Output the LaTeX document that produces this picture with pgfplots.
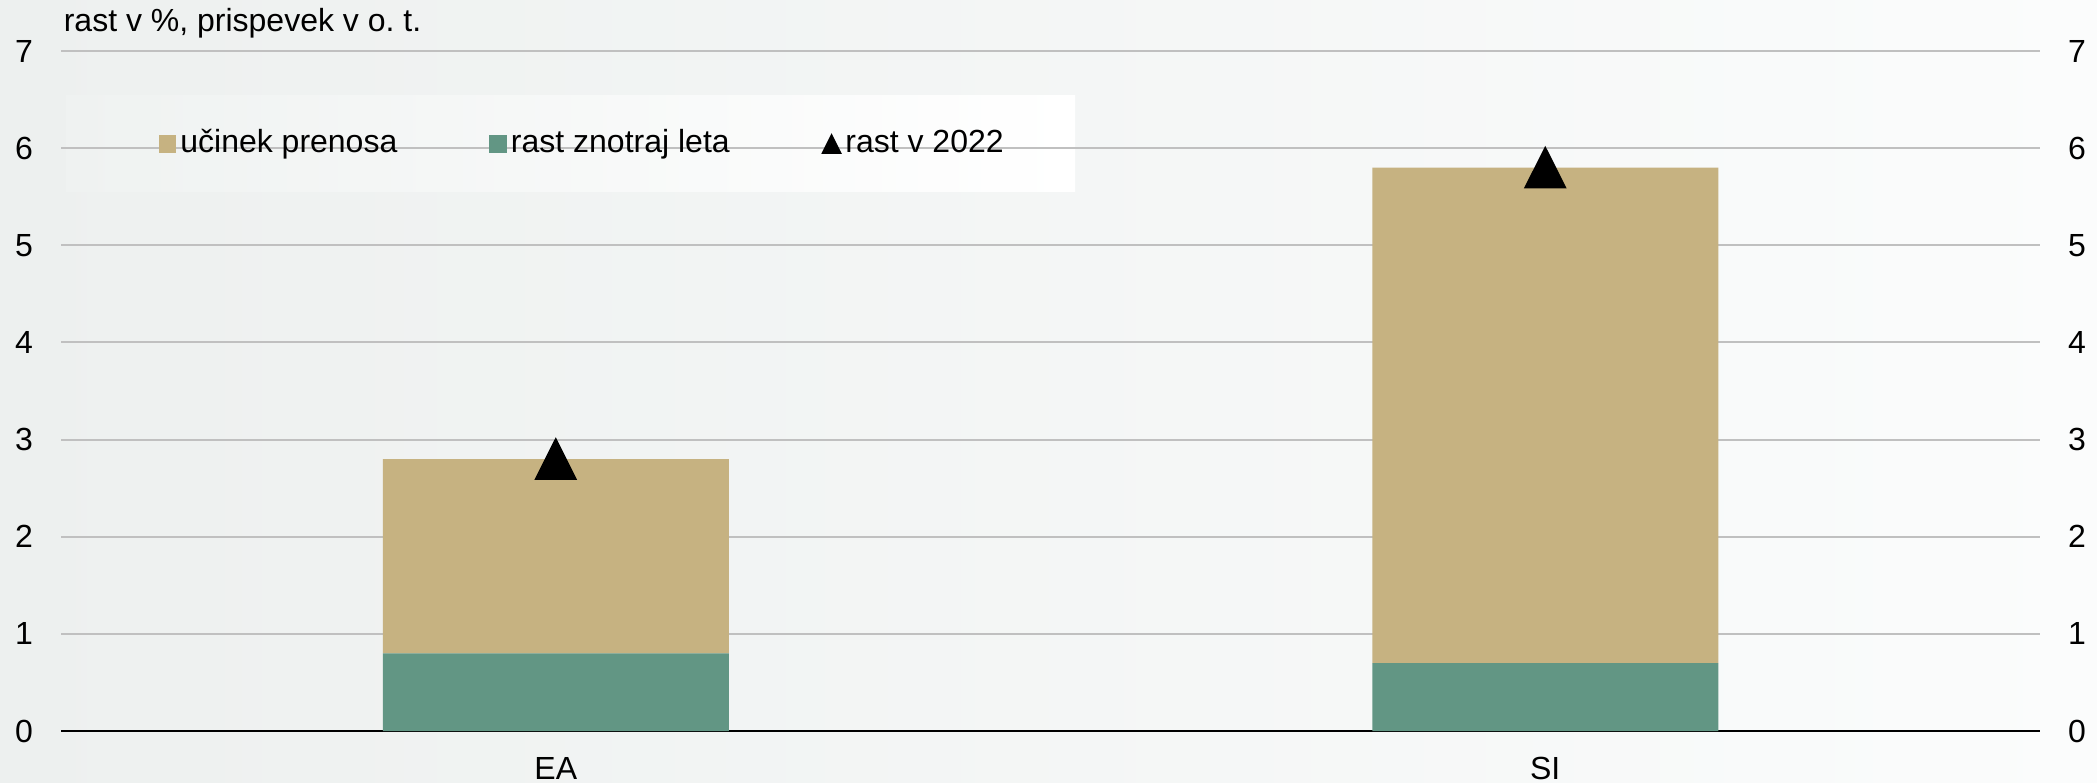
\documentclass[border=0pt]{standalone}
\usepackage{fontspec}
\setmainfont{Liberation Sans}
\usepackage{pgfplots}
\pgfplotsset{compat=1.18}
\definecolor{tanc}{HTML}{C6B281}
\definecolor{sage}{HTML}{629684}
\definecolor{gridc}{HTML}{C0C0C0}
\definecolor{bgl}{HTML}{EDF0EF}
\definecolor{bgr}{HTML}{FBFCFC}
\definecolor{lgl}{HTML}{EFF2F1}
\begin{document}
\begin{tikzpicture}
\path[use as bounding box] (0pt,0pt) rectangle (524.25pt,195.5pt);
\shade[left color=bgl, right color=bgr] (0pt,0pt) rectangle (524.25pt,195.5pt);
\shade[left color=lgl, right color=white] (16.5pt,147.5pt) rectangle (268.75pt,171.5pt);
\node[anchor=base west, inner sep=0pt, font=\fontsize{8}{9.6}\selectfont] at (15.75pt,187.5pt) {rast v \%, prispevek v o.\ t.};
\begin{axis}[
  at={(15.25pt,12.75pt)}, anchor=south west,
  scale only axis, width=494.75pt, height=170pt,
  xmin=-0.5, xmax=1.5, ymin=0, ymax=7,
  ybar stacked, bar width=86.5pt,
  xtick={0,1}, xticklabels={EA,SI},
  ytick={0,1,2,3,4,5,6,7},
  axis x line*=bottom, axis y line*=left,
  x axis line style={black, line width=0.6pt},
  y axis line style={draw=none},
  tick style={draw=none},
  ymajorgrids, grid style={gridc, line width=0.5pt},
  tick label style={font=\fontsize{8}{9.6}\selectfont},
  /pgf/number format/assume math mode=true,
  yticklabel style={anchor=center, xshift=-9.25pt},
  xticklabel style={anchor=center, yshift=-9.25pt},
  legend columns=3,
  legend style={at={(0.049,0.863)}, anchor=west, draw=none, fill=none, inner sep=0pt,
    font=\fontsize{8}{9.6}\selectfont,
    nodes={inner xsep=1pt, inner ysep=0pt},
    /tikz/every even column/.append style={column sep=22pt}},
]
\addlegendimage{legend image code/.code={\fill[tanc] (0pt,-2pt) rectangle (4pt,2pt);}}
\addlegendentry{učinek prenosa}
\addlegendimage{legend image code/.code={\fill[sage] (0pt,-2pt) rectangle (4pt,2pt);}}
\addlegendentry{rast znotraj leta}
\addlegendimage{legend image code/.code={\fill[black] (0pt,-2.2pt) -- (4.5pt,-2.2pt) -- (2.25pt,2.3pt) -- cycle;}}
\addlegendentry{rast v 2022}
\addplot[forget plot, fill=sage, draw=none] coordinates {(0,0.8) (1,0.7)};
\addplot[forget plot, fill=tanc, draw=none] coordinates {(0,2.0) (1,5.1)};
\end{axis}
\begin{axis}[
  at={(15.25pt,12.75pt)}, anchor=south west,
  scale only axis, width=494.75pt, height=170pt,
  xmin=-0.5, xmax=1.5, ymin=0, ymax=7,
  ytick={0,1,2,3,4,5,6,7},
  axis y line*=right, axis x line=none,
  y axis line style={draw=none},
  tick style={draw=none},
  tick label style={font=\fontsize{8}{9.6}\selectfont},
  /pgf/number format/assume math mode=true,
  yticklabel style={anchor=center, xshift=9.25pt},
  clip=false,
]
\addplot[only marks, mark=triangle*, mark size=6.67pt,
  mark options={fill=black, draw=black, xscale=0.87, yshift=-1.67pt}]
  coordinates {(0,2.8) (1,5.8)};
\end{axis}
\end{tikzpicture}
\end{document}
